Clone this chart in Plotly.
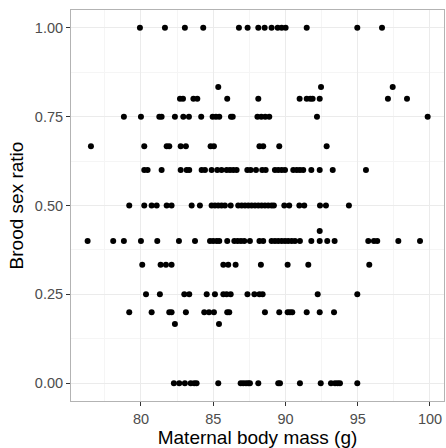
import plotly.graph_objects as go

# Brood sex ratio rows and maternal body mass values (g)
ratio_levels = [1.0, 0.8333, 0.8, 0.75, 0.6667, 0.6, 0.5, 0.4286, 0.4, 0.3333, 0.25, 0.2, 0.1667, 0.0]

mass_100 = [79.93, 81.66, 83.04, 84.31, 86.78, 87.38, 88.12, 88.56, 89.04, 89.46, 89.74, 90.01, 91.47, 94.97, 96.68]
mass_083 = [85.35, 92.46, 97.42]
mass_080 = [82.70, 82.91, 83.63, 83.90, 85.97, 88.12, 90.98, 91.47, 91.72, 91.88, 92.37, 97.09, 98.41]
mass_075 = [78.82, 80.00, 81.27, 81.43, 82.35, 82.93, 83.32, 84.17, 84.96, 85.19, 85.42, 86.23, 86.35,
            88.06, 88.33, 88.60, 88.88, 92.18, 99.84]
mass_067 = [76.54, 80.23, 81.78, 81.96, 82.75, 83.11, 84.82, 85.05, 88.20, 88.46, 89.57, 92.85]
mass_060 = [80.23, 80.46, 81.43, 82.75, 83.16, 83.34, 84.20, 84.43, 84.89, 85.28, 85.58, 85.93, 86.16,
            86.39, 86.62, 87.36, 87.59, 87.96, 88.39, 88.63, 89.27, 89.50, 89.74, 89.97, 90.54, 90.78,
            91.00, 91.23, 91.79, 92.37, 93.27, 95.57]
mass_050 = [79.19, 80.23, 80.74, 81.09, 81.78, 82.12, 83.51, 84.08, 84.89, 85.12, 85.35, 85.58, 85.81,
            86.21, 86.73, 86.97, 87.20, 87.43, 87.66, 87.89, 88.12, 88.35, 88.58, 88.81, 89.04, 89.20,
            89.92, 90.26, 90.96, 91.30, 92.39, 92.80, 94.39]
mass_043 = [92.37]
mass_040 = [76.31, 78.08, 78.82, 80.00, 81.13, 82.63, 83.74, 84.78, 85.00, 85.24, 85.42, 85.97, 86.46,
            86.69, 86.92, 87.15, 87.54, 88.20, 88.46, 89.04, 89.27, 89.50, 89.74, 89.97, 90.19, 90.43,
            90.66, 91.00, 91.79, 92.37, 92.89, 93.40, 95.73, 96.12, 96.35, 97.81, 99.31]
mass_033 = [80.09, 81.36, 81.73, 82.12, 85.70, 86.04, 86.55, 88.30, 90.15, 91.58, 95.80]
mass_025 = [80.35, 81.31, 83.00, 83.34, 84.55, 85.12, 85.70, 85.93, 86.21, 87.37, 87.85, 88.20, 88.42,
            92.23, 94.97]
mass_020 = [79.19, 80.74, 81.96, 82.12, 83.11, 84.38, 84.71, 85.05, 85.97, 86.11, 88.58, 89.57, 90.15,
            90.31, 90.47, 91.47, 92.37, 93.36]
mass_017 = [82.35, 85.40]
mass_000 = [82.28, 82.65, 83.04, 83.44, 83.69, 83.85, 85.35, 86.90, 87.08, 87.27, 87.43, 87.54, 88.12,
            89.50, 89.62, 91.00, 92.44, 93.15, 93.43, 93.61, 93.77, 94.97]

mass_rows = [mass_100, mass_083, mass_080, mass_075, mass_067, mass_060, mass_050, mass_043,
             mass_040, mass_033, mass_025, mass_020, mass_017, mass_000]

x_ticks = [80, 85, 90, 95, 100]
y_ticks = [0.0, 0.25, 0.5, 0.75, 1.0]
y_tick_labels = ["0.00", "0.25", "0.50", "0.75", "1.00"]

xs, ys = [], []
for r, row in zip(ratio_levels, mass_rows):
    xs.extend(row)
    ys.extend([r] * len(row))

fig = go.Figure(go.Scatter(
    x=xs, y=ys, mode="markers",
    marker=dict(color="black", size=6, line=dict(width=0)),
    hoverinfo="x+y",
))

font_family = "Liberation Sans, Arial, Helvetica, sans-serif"
grid_major = "#ebebeb"
grid_minor = "#f5f5f5"

fig.update_layout(
    width=446, height=448,
    margin=dict(l=71, r=2, t=10, b=47),
    paper_bgcolor="white", plot_bgcolor="white",
    showlegend=False,
    font=dict(family=font_family, color="black"),
    xaxis=dict(
        range=[75.16, 100.97],
        tickvals=x_ticks, ticktext=[str(v) for v in x_ticks],
        ticks="outside", ticklen=4, tickwidth=1, tickcolor="#333333",
        ticklabelstandoff=1,
        tickfont=dict(size=14.5, color="#4d4d4d", family=font_family),
        showgrid=True, gridcolor=grid_major, gridwidth=1,
        minor=dict(tickvals=[77.5, 82.5, 87.5, 92.5, 97.5], showgrid=True,
                   gridcolor=grid_minor, gridwidth=1, ticks=""),
        showline=True, linecolor="#b3b3b3", linewidth=1, mirror=True,
        zeroline=False,
        title=dict(text="Maternal body mass (g)", font=dict(size=19, family=font_family, color="black"),
                   standoff=4),
    ),
    yaxis=dict(
        range=[-0.05, 1.05],
        tickvals=y_ticks, ticktext=y_tick_labels,
        ticks="outside", ticklen=4, tickwidth=1, tickcolor="#333333",
        tickfont=dict(size=14.5, color="#4d4d4d", family=font_family),
        showgrid=True, gridcolor=grid_major, gridwidth=1,
        minor=dict(tickvals=[0.125, 0.375, 0.625, 0.875], showgrid=True,
                   gridcolor=grid_minor, gridwidth=1, ticks=""),
        showline=True, linecolor="#b3b3b3", linewidth=1, mirror=True,
        zeroline=False,
        title=dict(text="Brood sex ratio", font=dict(size=19, family=font_family, color="black"),
                   standoff=6),
    ),
)

fig.write_html("out.html")
